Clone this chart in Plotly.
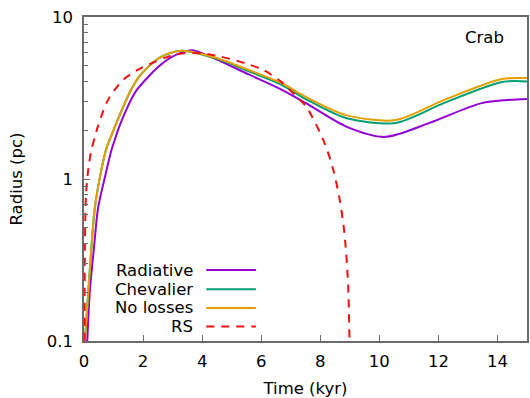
import plotly.graph_objects as go

# ---- data ----
rad_t = [0.11, 0.2, 0.34, 0.48, 0.71, 0.93, 1.04, 1.21, 1.5, 1.77, 2.2, 2.5, 2.89, 3.3, 3.67, 4.46, 5.58, 6.7, 7.5, 8.9, 10.2, 11.7, 13.47, 15.0]
rad_r = [0.1, 0.206, 0.38, 0.67, 1.03, 1.51, 1.74, 2.14, 2.85, 3.51, 4.32, 4.9, 5.56, 6.03, 6.24, 5.5, 4.42, 3.55, 2.95, 2.1, 1.82, 2.22, 2.94, 3.12]

che_t = [0.03, 0.15, 0.26, 0.37, 0.54, 0.76, 0.93, 1.04, 1.55, 1.88, 2.22, 2.44, 2.83, 3.34, 4.46, 5.58, 6.7, 7.53, 8.87, 10.55, 12.2, 14.15, 15.0]
che_r = [0.1, 0.206, 0.4, 0.67, 1.03, 1.55, 1.86, 2.09, 3.43, 4.31, 5.01, 5.43, 5.92, 6.2, 5.55, 4.62, 3.8, 3.1, 2.38, 2.22, 2.95, 3.97, 4.0]

nol_t = [0.03, 0.15, 0.26, 0.37, 0.54, 0.76, 0.93, 1.04, 1.55, 1.88, 2.22, 2.44, 2.83, 3.34, 4.46, 5.58, 6.7, 7.53, 8.87, 10.55, 12.2, 14.15, 15.0]
nol_r = [0.1, 0.206, 0.4, 0.67, 1.03, 1.55, 1.86, 2.09, 3.43, 4.31, 5.01, 5.43, 5.92, 6.2, 5.6, 4.71, 3.9, 3.2, 2.48, 2.31, 3.08, 4.14, 4.2]

rs_t = [0.02, 0.03, 0.07, 0.15, 0.25, 0.37, 0.48, 0.82, 1.32, 1.88, 2.44, 2.89, 3.4, 4.0, 4.6, 5.13, 5.6, 6.08, 6.7, 7.0, 7.53, 8.15, 8.45, 8.66, 8.82, 8.94, 8.99]
rs_r = [0.1, 0.38, 0.81, 1.17, 1.51, 1.82, 2.14, 3.09, 4.08, 4.79, 5.32, 5.73, 5.97, 5.96, 5.71, 5.4, 5.08, 4.7, 3.95, 3.5, 2.78, 1.66, 1.12, 0.74, 0.46, 0.228, 0.1]

series_names = ["Radiative", "Chevalier", "No losses", "RS"]
x_ticks = [0, 2, 4, 6, 8, 10, 12, 14]
y_ticks = [0.1, 1, 10]
y_tick_text = ["0.1", "1", "10"]
y_minor = [0.2, 0.3, 0.4, 0.5, 0.6, 0.7, 0.8, 0.9, 2, 3, 4, 5, 6, 7, 8, 9]

colors = ["#9400D3", "#009E73", "#E69F00", "#F01010"]
FONT = "DejaVu Sans"
FS = 16.5
RS_DASH = "8px,7px"

fig = go.Figure()
data = [(rad_t, rad_r), (che_t, che_r), (nol_t, nol_r), (rs_t, rs_r)]
for i, ((t, r), name) in enumerate(zip(data, series_names)):
    fig.add_trace(go.Scatter(
        x=t, y=r, mode="lines", name=name, showlegend=False,
        line=dict(color=colors[i], width=2, dash=RS_DASH if name == "RS" else "solid",
                  shape="spline", smoothing=0.8),
    ))

# manual legend (text right-aligned, sample line on the right), gnuplot style
row_y = [0.219, 0.160, 0.102, 0.045]
for i, name in enumerate(series_names):
    fig.add_annotation(x=0.251, y=row_y[i], xref="paper", yref="paper", text=name,
                       showarrow=False, xanchor="right", yanchor="middle",
                       font=dict(family=FONT, size=FS, color="black"))
    fig.add_shape(type="line", xref="paper", yref="paper",
                  x0=0.276, x1=0.388, y0=row_y[i], y1=row_y[i],
                  line=dict(color=colors[i], width=2, dash=RS_DASH if name == "RS" else "solid"))

fig.add_annotation(x=0.904, y=0.938, xref="paper", yref="paper", text="Crab",
                   showarrow=False, xanchor="center", yanchor="middle",
                   font=dict(family=FONT, size=FS, color="black"))

axis_line = "#6a6a6a"
fig.update_layout(
    width=530, height=398,
    margin=dict(l=84, r=1, t=17, b=57),
    paper_bgcolor="white", plot_bgcolor="white",
    font=dict(family=FONT, size=FS, color="black"),
    xaxis=dict(range=[0, 15], tickvals=x_ticks, ticks="inside", ticklen=6, tickcolor=axis_line,
               ticklabelstandoff=4,
               showline=True, linecolor=axis_line, linewidth=1.5, mirror=True,
               showgrid=False, zeroline=False,
               title=dict(text="Time (kyr)", standoff=14, font=dict(family=FONT, size=FS))),
    yaxis=dict(type="log", range=[-1, 1], tickvals=y_ticks, ticktext=y_tick_text,
               ticks="inside", ticklen=6, tickcolor=axis_line, ticklabelstandoff=6,
               minor=dict(tickvals=y_minor, ticks="inside", ticklen=4, tickcolor=axis_line, showgrid=False),
               showline=True, linecolor=axis_line, linewidth=1.5, mirror=True,
               showgrid=False, zeroline=False,
               title=dict(text="Radius (pc)", standoff=20, font=dict(family=FONT, size=FS))),
)

fig.write_html("out.html")
